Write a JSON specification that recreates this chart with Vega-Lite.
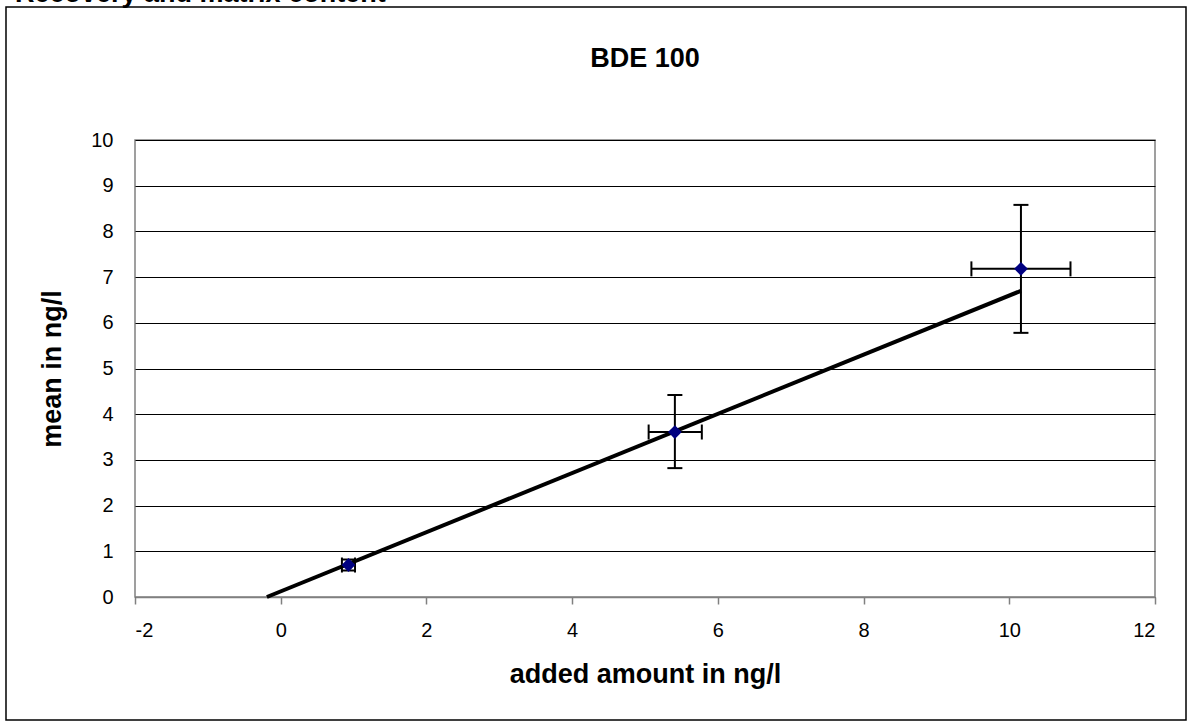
{
  "$schema": "https://vega.github.io/schema/vega-lite/v6.json",
  "width": 1020,
  "height": 457,
  "autosize": {"type": "none"},
  "padding": {"left": 135, "top": 140, "right": 38, "bottom": 130},
  "background": "white",
  "config": {
    "font": "Liberation Sans",
    "view": {"stroke": "#808080", "strokeWidth": 1.5},
    "axis": {"labelColor": "black", "titleColor": "black", "labelFont": "Liberation Sans", "titleFont": "Liberation Sans"}
  },
  "datasets": {
    "points": [
      {"added": 0.93, "mean": 0.70, "xlo": 0.84, "xhi": 1.02, "ylo": 0.58, "yhi": 0.82},
      {"added": 5.41, "mean": 3.61, "xlo": 5.05, "xhi": 5.78, "ylo": 2.82, "yhi": 4.42},
      {"added": 10.16, "mean": 7.18, "xlo": 9.48, "xhi": 10.84, "ylo": 5.78, "yhi": 8.58}
    ],
    "fit": [
      {"added": -0.19, "mean": 0.0},
      {"added": 10.16, "mean": 6.70}
    ],
    "frame": [
      {"label": "Recovery and matrix content", "title": "BDE 100"}
    ]
  },
  "layer": [
    {
      "data": {"name": "fit"},
      "mark": {"type": "line", "color": "black", "strokeWidth": 4, "strokeCap": "butt"},
      "encoding": {
        "x": {
          "field": "added", "type": "quantitative",
          "scale": {"domain": [-2, 12], "nice": false, "zero": false},
          "axis": {
            "title": "added amount in ng/l",
            "values": [-2, 0, 2, 4, 6, 8, 10, 12],
            "labelExpr": "'' + datum.value",
            "grid": false,
            "domainColor": "#808080",
            "domainWidth": 1.5,
            "tickColor": "#808080",
            "tickWidth": 1.5,
            "tickSize": 7,
            "labelFontSize": 20,
            "labelPadding": 16,
            "titleFontSize": 27,
            "titleFontWeight": "bold",
            "titlePadding": 21
          }
        },
        "y": {
          "field": "mean", "type": "quantitative",
          "scale": {"domain": [0, 10], "nice": false, "zero": false},
          "axis": {
            "title": "mean in ng/l",
            "values": [0, 1, 2, 3, 4, 5, 6, 7, 8, 9, 10],
            "grid": true,
            "gridColor": "black",
            "gridWidth": 1,
            "gridOpacity": 1,
            "domain": false,
            "ticks": false,
            "labelFontSize": 20,
            "labelPadding": 22,
            "titleFontSize": 27,
            "titleFontWeight": "bold",
            "titlePadding": 24
          }
        }
      }
    },
    {
      "data": {"name": "frame"},
      "mark": {"type": "rect", "fill": "transparent", "stroke": "black", "strokeWidth": 1.5, "clip": false},
      "encoding": {
        "x": {"datum": -3.7706, "type": "quantitative"},
        "x2": {"datum": 12.4255},
        "y": {"datum": 12.91, "type": "quantitative"},
        "y2": {"datum": -2.691}
      }
    },
    {
      "data": {"name": "frame"},
      "mark": {"type": "text", "align": "left", "baseline": "alphabetic", "fontSize": 27, "fontWeight": "bold", "color": "black", "clip": false},
      "encoding": {
        "text": {"field": "label"},
        "x": {"datum": -3.647, "type": "quantitative"},
        "y": {"datum": 13.009, "type": "quantitative"}
      }
    },
    {
      "data": {"name": "frame"},
      "mark": {"type": "text", "align": "center", "baseline": "alphabetic", "fontSize": 27, "fontWeight": "bold", "color": "black", "clip": false},
      "encoding": {
        "text": {"field": "title"},
        "x": {"datum": 5, "type": "quantitative"},
        "y": {"datum": 11.6, "type": "quantitative"}
      }
    },
    {
      "mark": {"type": "rule", "color": "#808080", "strokeWidth": 1.5},
      "encoding": {"x": {"datum": 0, "type": "quantitative"}}
    },
    {
      "data": {"name": "points"},
      "mark": {"type": "rule", "color": "black", "strokeWidth": 2},
      "encoding": {
        "x": {"field": "added", "type": "quantitative"},
        "y": {"field": "ylo", "type": "quantitative"},
        "y2": {"field": "yhi"}
      }
    },
    {
      "data": {"name": "points"},
      "mark": {"type": "rule", "color": "black", "strokeWidth": 2},
      "encoding": {
        "y": {"field": "mean", "type": "quantitative"},
        "x": {"field": "xlo", "type": "quantitative"},
        "x2": {"field": "xhi"}
      }
    },
    {
      "data": {"name": "points"},
      "mark": {"type": "tick", "orient": "horizontal", "color": "black", "size": 15, "thickness": 2, "opacity": 1},
      "encoding": {
        "x": {"field": "added", "type": "quantitative"},
        "y": {"field": "ylo", "type": "quantitative"}
      }
    },
    {
      "data": {"name": "points"},
      "mark": {"type": "tick", "orient": "horizontal", "color": "black", "size": 15, "thickness": 2, "opacity": 1},
      "encoding": {
        "x": {"field": "added", "type": "quantitative"},
        "y": {"field": "yhi", "type": "quantitative"}
      }
    },
    {
      "data": {"name": "points"},
      "mark": {"type": "tick", "orient": "vertical", "color": "black", "size": 15, "thickness": 2, "opacity": 1},
      "encoding": {
        "x": {"field": "xlo", "type": "quantitative"},
        "y": {"field": "mean", "type": "quantitative"}
      }
    },
    {
      "data": {"name": "points"},
      "mark": {"type": "tick", "orient": "vertical", "color": "black", "size": 15, "thickness": 2, "opacity": 1},
      "encoding": {
        "x": {"field": "xhi", "type": "quantitative"},
        "y": {"field": "mean", "type": "quantitative"}
      }
    },
    {
      "data": {"name": "points"},
      "mark": {"type": "point", "shape": "diamond", "filled": true, "color": "#000080", "size": 190, "opacity": 1},
      "encoding": {
        "x": {"field": "added", "type": "quantitative"},
        "y": {"field": "mean", "type": "quantitative"}
      }
    }
  ]
}
